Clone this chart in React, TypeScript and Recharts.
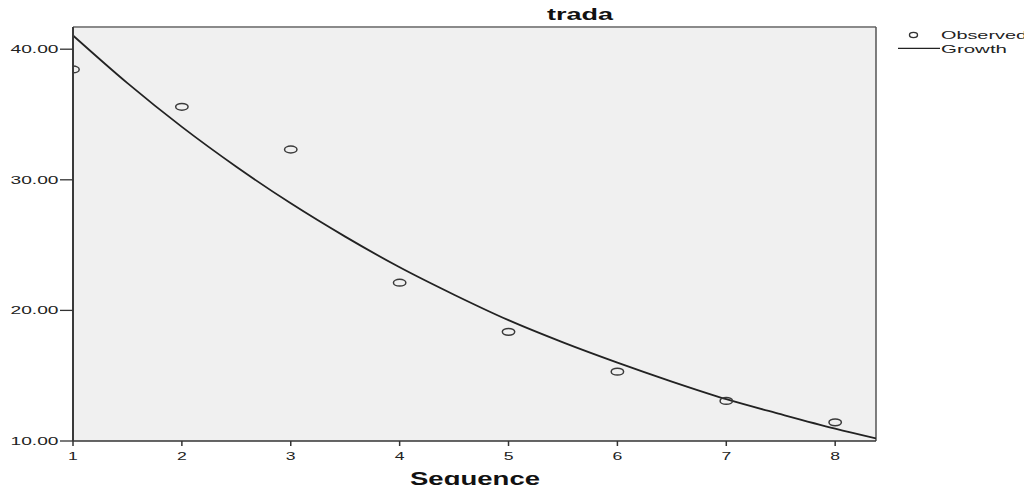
import React from 'react';
import { ComposedChart, Scatter, Line, XAxis, YAxis, ReferenceArea, ReferenceLine, Customized } from 'recharts';

const chartTitle = 'trada';
const xAxisTitle = 'Sequence';
const legendLabels = ['Observed', 'Growth'];

const sequence = [1, 2, 3, 4, 5, 6, 7, 8];
const observed = [38.45, 35.59, 32.32, 22.12, 18.36, 15.31, 13.07, 11.43];

const growthX = [1, 1.5, 2, 2.5, 3, 3.5, 4, 4.5, 5, 5.5, 6, 6.5, 7, 7.5, 8, 8.375];
const growthY = [41.05, 37.4, 34.05, 31.0, 28.2, 25.65, 23.3, 21.2, 19.25, 17.55, 16.0, 14.55, 13.2, 12.05, 10.95, 10.2];

const xTicks = [1, 2, 3, 4, 5, 6, 7, 8];
const yTicks = [10, 20, 30, 40];
const xDomain = [1, 8.375];
const yDomain = [10, 41.7];

const observedData = sequence.map((x, i) => ({ x, y: observed[i] }));
const growthData = growthX.map((x, i) => ({ x, y: growthY[i] }));

const FONT = "Arial, 'Liberation Sans', sans-serif";
const W = 1032;
const H = 493;
const M = { top: 27, right: 156, left: 0, bottom: 0 };
const Y_W = 73;
const X_H = 52;
const PLOT = { x: Y_W, y: M.top, w: W - Y_W - M.right, h: H - M.top - X_H };

const YTick = (props: any) => {
  const { x, y, payload } = props;
  return (
    <text x={x} y={y} dy={4} textAnchor="end" fontFamily={FONT} fontSize={11} fill="#222"
      textLength={48} lengthAdjust="spacingAndGlyphs">
      {Number(payload.value).toFixed(2)}
    </text>
  );
};

const XTick = (props: any) => {
  const { x, y, payload } = props;
  return (
    <text transform={`translate(${x},${y + 14}) scale(1.6,1)`} textAnchor="middle" fontFamily={FONT} fontSize={11} fill="#222">
      {payload.value}
    </text>
  );
};

const Ring = (props: any) => {
  const { cx, cy } = props;
  if (cx == null || cy == null) return null;
  return (
    <ellipse cx={cx} cy={cy} rx={6.2} ry={3.4} fill="none" stroke="#3a3a3a" strokeWidth={1.5}
      clipPath="url(#plotClip)" />
  );
};

const Decorations = () => (
  <g>
    <defs>
      <clipPath id="plotClip">
        <rect x={PLOT.x} y={PLOT.y} width={PLOT.w} height={PLOT.h} />
      </clipPath>
    </defs>
    <text x={547} y={20} fontFamily={FONT} fontSize={16} fontWeight="bold" fill="#111"
      textLength={66} lengthAdjust="spacingAndGlyphs">{chartTitle}</text>
    <text x={475} y={485} textAnchor="middle" fontFamily={FONT} fontSize={18} fontWeight="bold" fill="#111"
      textLength={130} lengthAdjust="spacingAndGlyphs">{xAxisTitle}</text>
    <ellipse cx={913.5} cy={35} rx={4} ry={2.6} fill="none" stroke="#333" strokeWidth={1.4} />
    <text x={941} y={39.3} fontFamily={FONT} fontSize={11} fill="#222"
      textLength={86} lengthAdjust="spacingAndGlyphs">{legendLabels[0]}</text>
    <line x1={898} x2={940} y1={48.3} y2={48.3} stroke="#222" strokeWidth={1.3} />
    <text x={941} y={53} fontFamily={FONT} fontSize={11} fill="#222"
      textLength={66} lengthAdjust="spacingAndGlyphs">{legendLabels[1]}</text>
  </g>
);

export default function App() {
  return (
    <div style={{ margin: -8, width: W, height: H }}>
      <ComposedChart width={W} height={H} margin={M}>
        <XAxis type="number" dataKey="x" domain={xDomain} ticks={xTicks} allowDataOverflow
          height={X_H} tickSize={5} tickMargin={0} tick={<XTick />}
          axisLine={{ stroke: '#333', strokeWidth: 1.3 }} tickLine={{ stroke: '#333', strokeWidth: 1.5 }} />
        <YAxis type="number" dataKey="y" domain={yDomain} ticks={yTicks} allowDataOverflow
          width={Y_W} tickSize={13} tickMargin={1.5} tick={<YTick />}
          axisLine={{ stroke: '#3a3a3a', strokeWidth: 2 }} tickLine={{ stroke: '#333', strokeWidth: 1.3 }} />
        <ReferenceArea x1={xDomain[0]} x2={xDomain[1]} y1={yDomain[0]} y2={yDomain[1]}
          fill="#f0f0f0" fillOpacity={1} stroke="none" />
        <ReferenceLine y={yDomain[1]} stroke="#8a8a8a" strokeWidth={2.2} />
        <ReferenceLine x={xDomain[1]} stroke="#555" strokeWidth={1.5} />
        <Line data={growthData} dataKey="y" type="monotone" stroke="#222" strokeWidth={1.8}
          dot={false} activeDot={false} isAnimationActive={false} legendType="line" />
        <Scatter data={observedData} dataKey="y" shape={<Ring />} isAnimationActive={false} />
        <Customized component={Decorations} />
      </ComposedChart>
    </div>
  );
}
